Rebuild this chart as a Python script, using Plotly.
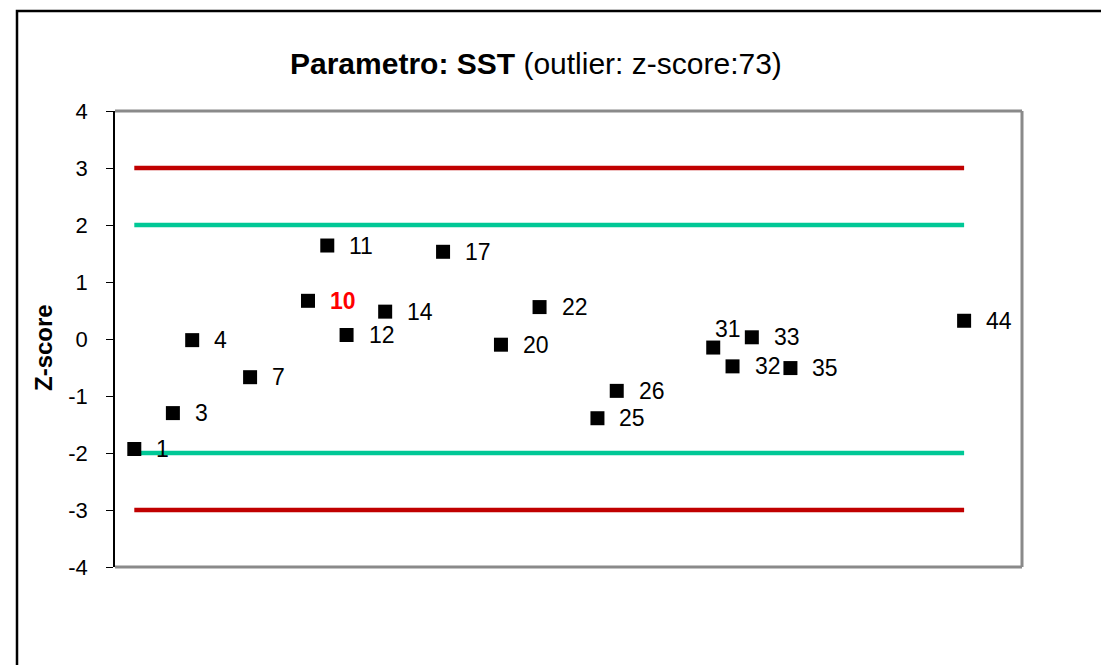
import plotly.graph_objects as go

# ---------------- data ----------------
lab_ids = [1, 3, 4, 7, 10, 11, 12, 14, 17, 20, 22, 25, 26, 31, 32, 33, 35, 44]
z_scores = [-1.93, -1.30, -0.02, -0.67, 0.67, 1.64, 0.07, 0.48, 1.53, -0.10,
            0.56, -1.39, -0.91, -0.15, -0.48, 0.03, -0.51, 0.32]
limit_warn = [2, -2]
limit_action = [3, -3]
y_ticks = [-4, -3, -2, -1, 0, 1, 2, 3, 4]
highlight_id = 10
title_bold = "Parametro: SST"
title_note = "(outlier: z-score:73)"
y_title = "Z-score"

# ---------------- layout geometry (pixels) ----------------
W, H = 1101, 665
ML, MR, MT, MB = 115, 79, 111, 98
PW, PH = W - ML - MR, H - MT - MB


def px_x(p):
    return (p - ML) / PW


def px_y(p):
    return 1 - (p - MT) / PH


FONT = "Arial, Liberation Sans, Helvetica, sans-serif"
RED = "#C00000"
GREEN = "#00C896"

fig = go.Figure()

x_span = [min(lab_ids), max(lab_ids)]
for v in limit_action:
    fig.add_trace(go.Scatter(x=x_span, y=[v, v], mode="lines",
                             line=dict(color=RED, width=4.5),
                             hoverinfo="skip", showlegend=False))
for v in limit_warn:
    fig.add_trace(go.Scatter(x=x_span, y=[v, v], mode="lines",
                             line=dict(color=GREEN, width=4.5),
                             hoverinfo="skip", showlegend=False))

fig.add_trace(go.Scatter(x=lab_ids, y=z_scores, mode="markers",
                         marker=dict(symbol="square", size=14, color="black"),
                         showlegend=False))

# label offsets (style only)
special_offsets = {31: dict(xshift=0, yshift=19)}
annotations = []
for i, z in zip(lab_ids, z_scores):
    off = special_offsets.get(i, dict(xshift=20, yshift=0))
    if i == highlight_id:
        txt = f"<b>{i}</b>"
        col = "#FF0000"
    else:
        txt = str(i)
        col = "black"
    annotations.append(dict(x=i, y=z, xref="x", yref="y", text=txt,
                            showarrow=False, xanchor="left", yanchor="middle",
                            xshift=off["xshift"], yshift=off["yshift"],
                            font=dict(family=FONT, size=23, color=col)))

# title
annotations.append(dict(x=px_x(536), y=px_y(63), xref="paper", yref="paper",
                        text=f"<b>{title_bold}</b> {title_note}",
                        showarrow=False, xanchor="center", yanchor="middle",
                        font=dict(family=FONT, size=30, color="black")))
# y axis title
annotations.append(dict(x=px_x(43), y=px_y(348), xref="paper", yref="paper",
                        text=f"<b>{y_title}</b>", textangle=-90,
                        showarrow=False, xanchor="center", yanchor="middle",
                        font=dict(family=FONT, size=24, color="black")))

shapes = [
    # outer frame
    dict(type="rect", xref="paper", yref="paper",
         x0=px_x(17), y0=px_y(11), x1=px_x(1130), y1=px_y(700),
         line=dict(color="black", width=2.5), layer="below"),
    # plot border top/right/bottom
    dict(type="line", xref="paper", yref="paper", x0=0, x1=1, y0=1, y1=1,
         line=dict(color="#8a8a8a", width=3)),
    dict(type="line", xref="paper", yref="paper", x0=1, x1=1, y0=0, y1=1,
         line=dict(color="#8a8a8a", width=3)),
    dict(type="line", xref="paper", yref="paper", x0=0, x1=1, y0=0, y1=0,
         line=dict(color="#8a8a8a", width=3)),
]

fig.update_layout(
    width=W, height=H,
    margin=dict(l=ML, r=MR, t=MT, b=MB, pad=0),
    paper_bgcolor="white", plot_bgcolor="white",
    font=dict(family=FONT, color="black"),
    showlegend=False,
    annotations=annotations,
    shapes=shapes,
    xaxis=dict(range=[0, 47], visible=False, showgrid=False, zeroline=False),
    yaxis=dict(range=[-4, 4], tickvals=y_ticks, ticktext=[str(t) for t in y_ticks],
               showgrid=False, zeroline=False, showline=True,
               linecolor="black", linewidth=1.5, ticks="outside", ticklen=7,
               tickcolor="black", tickwidth=1, ticklabelstandoff=14,
               tickfont=dict(family=FONT, size=22, color="black")),
)

fig.write_html("out.html",
               config={"displayModeBar": False},
               post_script="document.body.style.margin='0px';"
                           "document.body.style.overflow='hidden';")
